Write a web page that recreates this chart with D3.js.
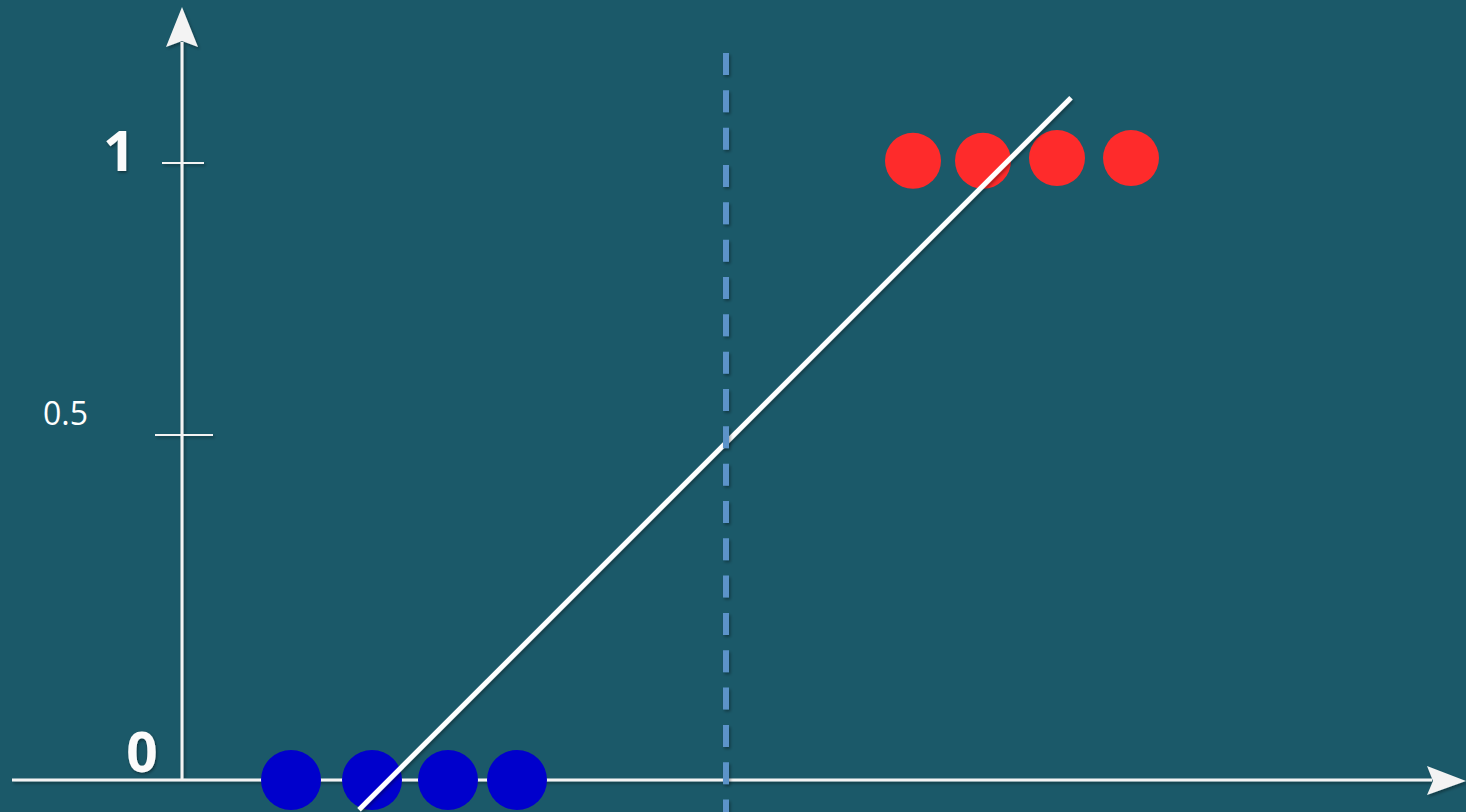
<!DOCTYPE html>
<html>
<head>
<meta charset="utf-8">
<script src="https://cdn.jsdelivr.net/npm/d3@7"></script>
<style>
  html, body { margin: 0; padding: 0; background: #1b5969; overflow: hidden; }
  svg { display: block; }
</style>
</head>
<body>
<svg id="chart" width="1466" height="812"></svg>
<script>
// Class 0 samples (blue) and class 1 samples (red) along the feature axis
const blueX = [1.09, 1.90, 2.66, 3.35];
const blueY = [0, 0, 0, 0];
const redX = [7.31, 8.01, 8.75, 9.49];
const redY = [1.004, 1.004, 1.009, 1.009];

// Straight-line fit drawn through the samples
const fitX = [1.77, 8.89];
const fitY = [-0.043, 1.12];

// Decision threshold where the fit crosses 0.5
const thresholdX = [5.44];

// Y-axis ticks and their labels
const yTickValues = [1, 0.5];
const yTickLabels = ["1", "0.5"];
const originLabel = "0";

const width = 1466, height = 812;
const svg = d3.select("#chart");

const x = d3.scaleLinear().domain([-1.7, 12.84]).range([12, 1466]);
const y = d3.scaleLinear().domain([0, 0.5, 1]).range([780, 435, 163]);

svg.append("rect").attr("width", width).attr("height", height).attr("fill", "#1b5969");

// Soft drop shadows; user-space regions so zero-width lines still render
const defs = svg.append("defs");
function addShadow(id, dx, dy, sd, op) {
  defs.append("filter").attr("id", id)
    .attr("filterUnits", "userSpaceOnUse")
    .attr("x", 0).attr("y", 0).attr("width", width).attr("height", height)
    .append("feDropShadow").attr("dx", dx).attr("dy", dy).attr("stdDeviation", sd)
    .attr("flood-color", "#000").attr("flood-opacity", op);
}
addShadow("shadow", 1.5, 2, 1.5, 0.35);
addShadow("glow", 1, 1.5, 1.5, 0.45);

const axisColor = "#f3f3f3";
const x0 = x(0), y0 = y(0);

// Axes with arrow heads
const axes = svg.append("g").attr("filter", "url(#shadow)");
axes.append("line")
  .attr("x1", x.range()[0]).attr("x2", 1432)
  .attr("y1", y0).attr("y2", y0)
  .attr("stroke", axisColor).attr("stroke-width", 3);
axes.append("line")
  .attr("x1", x0).attr("x2", x0)
  .attr("y1", y0).attr("y2", 42)
  .attr("stroke", axisColor).attr("stroke-width", 3);
axes.append("path")
  .attr("d", `M${x0},7 L${x0 + 16},47 L${x0},41 L${x0 - 16},47 Z`)
  .attr("fill", axisColor);
axes.append("path")
  .attr("d", `M1466,${y0 + 1} L1427,${y0 - 14} L1433,${y0 + 1} L1427,${y0 + 15} Z`)
  .attr("fill", axisColor);

// Tick marks crossing the y axis
const tickExtent = [[20, 22], [27, 31]];
yTickValues.forEach((v, i) => {
  axes.append("line")
    .attr("x1", x0 - tickExtent[i][0]).attr("x2", x0 + tickExtent[i][1])
    .attr("y1", y(v)).attr("y2", y(v))
    .attr("stroke", axisColor).attr("stroke-width", 2);
});

// Tick labels
svg.append("text")
  .attr("x", 119).attr("y", y(yTickValues[0]) + 8)
  .attr("text-anchor", "middle")
  .attr("font-family", "Open Sans").attr("font-weight", "bold").attr("font-size", 56)
  .attr("fill", "#fbfbfb").attr("filter", "url(#glow)")
  .text(yTickLabels[0]);
svg.append("text")
  .attr("x", 43).attr("y", y(yTickValues[1]) - 10)
  .attr("font-family", "Open Sans").attr("font-size", 32)
  .attr("fill", "#ffffff")
  .text(yTickLabels[1]);
svg.append("text")
  .attr("x", 142).attr("y", y0 - 8)
  .attr("text-anchor", "middle")
  .attr("font-family", "Open Sans").attr("font-weight", "bold").attr("font-size", 55)
  .attr("fill", "#fbfbfb").attr("filter", "url(#glow)")
  .text(originLabel);

// Samples
svg.append("g").selectAll("circle")
  .data(blueX.map((v, i) => [v, blueY[i]]))
  .join("circle")
  .attr("cx", d => x(d[0])).attr("cy", d => y(d[1]))
  .attr("r", 30).attr("fill", "#0000cc");
svg.append("g").selectAll("circle")
  .data(redX.map((v, i) => [v, redY[i]]))
  .join("circle")
  .attr("cx", d => x(d[0])).attr("cy", d => y(d[1]))
  .attr("r", 28).attr("fill", "#fe2b2b");

// Fitted line
svg.append("path")
  .datum(fitX.map((v, i) => [v, fitY[i]]))
  .attr("d", d3.line().x(d => x(d[0])).y(d => y(d[1])))
  .attr("stroke", "#ffffff").attr("stroke-width", 5).attr("fill", "none")
  .attr("filter", "url(#shadow)");

// Threshold
svg.append("g").selectAll("line")
  .data(thresholdX)
  .join("line")
  .attr("x1", d => x(d)).attr("x2", d => x(d))
  .attr("y1", 53).attr("y2", height)
  .attr("stroke", "#5b93c9").attr("stroke-width", 6)
  .attr("stroke-dasharray", "22 15.33")
  .attr("filter", "url(#shadow)");
</script>
</body>
</html>
